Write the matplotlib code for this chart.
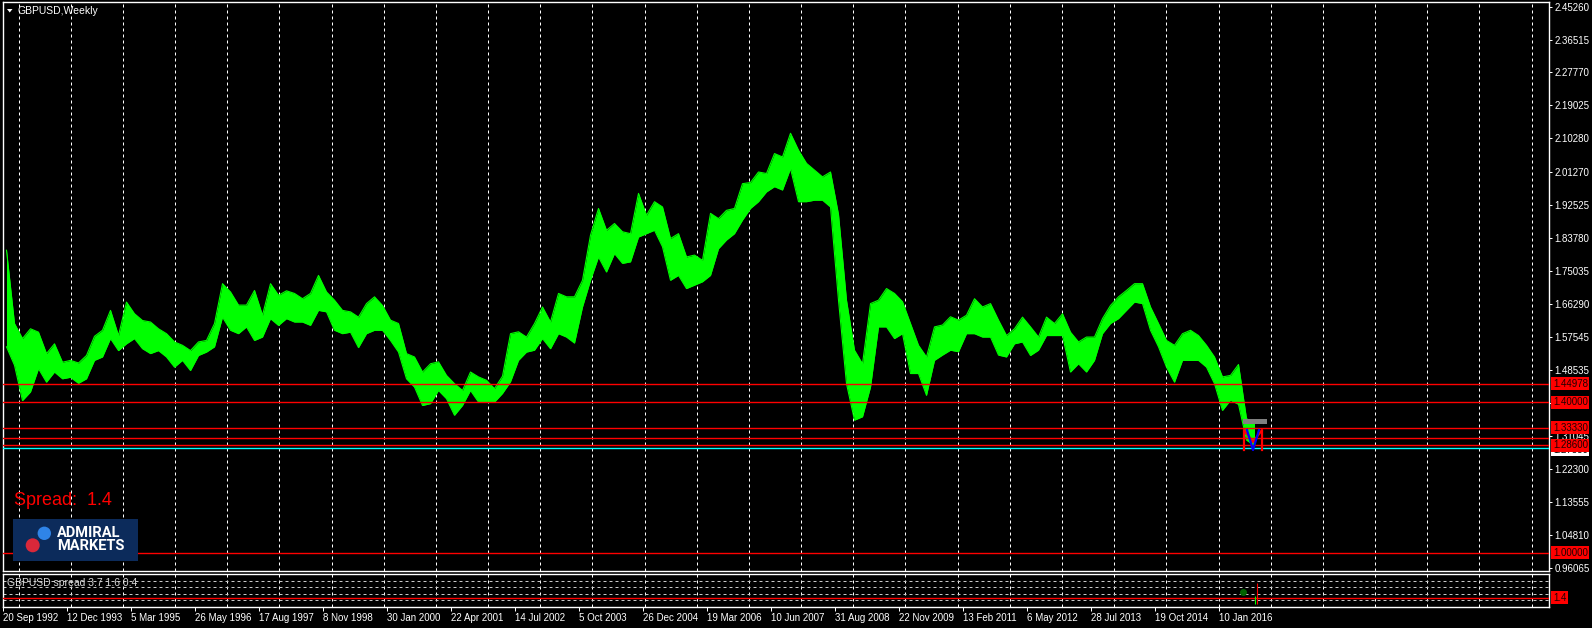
import matplotlib
matplotlib.use("Agg")
import matplotlib.pyplot as plt
import numpy as np
import pandas as pd
from matplotlib.patches import Rectangle, Ellipse, Polygon

# GBPUSD weekly, read off the chart as high / low per block of 8 weeks,
# first block starts on the week of 20 Sep 1992
block_high = [
    1.805, 1.610, 1.570, 1.596, 1.587, 1.530, 1.556, 1.507, 1.512, 1.505,
    1.525, 1.576, 1.592, 1.645, 1.578, 1.667, 1.636, 1.618, 1.614, 1.596,
    1.583, 1.561, 1.552, 1.538, 1.561, 1.565, 1.610, 1.716, 1.694, 1.659,
    1.659, 1.698, 1.632, 1.716, 1.685, 1.697, 1.690, 1.676, 1.690, 1.738,
    1.694, 1.672, 1.645, 1.641, 1.627, 1.663, 1.681, 1.658, 1.619, 1.610,
    1.530, 1.521, 1.481, 1.503, 1.508, 1.472, 1.450, 1.432, 1.481, 1.468,
    1.459, 1.437, 1.470, 1.583, 1.588, 1.574, 1.610, 1.654, 1.614, 1.690,
    1.681, 1.681, 1.725, 1.845, 1.916, 1.858, 1.876, 1.854, 1.849, 1.956,
    1.898, 1.934, 1.920, 1.836, 1.849, 1.787, 1.792, 1.778, 1.903, 1.889,
    1.911, 1.916, 1.982, 1.985, 2.013, 2.009, 2.062, 2.053, 2.116, 2.071,
    2.036, 2.018, 2.000, 2.013, 1.900, 1.672, 1.539, 1.503, 1.663, 1.672,
    1.703, 1.690, 1.668, 1.610, 1.552, 1.521, 1.601, 1.606, 1.628, 1.619,
    1.632, 1.676, 1.654, 1.663, 1.619, 1.578, 1.596, 1.627, 1.601, 1.574,
    1.627, 1.610, 1.636, 1.587, 1.561, 1.574, 1.574, 1.623, 1.658, 1.681,
    1.698, 1.716, 1.716, 1.654, 1.610, 1.565, 1.552, 1.583, 1.592, 1.578,
    1.552, 1.521, 1.468, 1.472, 1.501, 1.357, 1.345,
]
block_low = [
    1.548, 1.499, 1.405, 1.428, 1.490, 1.454, 1.481, 1.463, 1.467, 1.451,
    1.463, 1.512, 1.521, 1.570, 1.538, 1.556, 1.570, 1.543, 1.530, 1.538,
    1.521, 1.494, 1.512, 1.485, 1.525, 1.534, 1.548, 1.627, 1.592, 1.583,
    1.601, 1.565, 1.574, 1.623, 1.605, 1.623, 1.614, 1.614, 1.605, 1.645,
    1.641, 1.592, 1.583, 1.587, 1.546, 1.583, 1.592, 1.592, 1.565, 1.534,
    1.463, 1.441, 1.392, 1.397, 1.432, 1.410, 1.366, 1.392, 1.432, 1.401,
    1.401, 1.401, 1.424, 1.455, 1.512, 1.534, 1.539, 1.570, 1.543, 1.583,
    1.574, 1.558, 1.654, 1.725, 1.787, 1.747, 1.796, 1.770, 1.774, 1.840,
    1.849, 1.858, 1.814, 1.725, 1.738, 1.703, 1.712, 1.721, 1.738, 1.809,
    1.832, 1.849, 1.885, 1.916, 1.934, 1.960, 1.974, 1.965, 2.022, 1.934,
    1.934, 1.938, 1.938, 1.920, 1.672, 1.450, 1.353, 1.362, 1.441, 1.601,
    1.601, 1.570, 1.583, 1.477, 1.477, 1.419, 1.512, 1.526, 1.539, 1.535,
    1.583, 1.583, 1.574, 1.574, 1.526, 1.521, 1.556, 1.561, 1.525, 1.539,
    1.578, 1.578, 1.578, 1.481, 1.503, 1.481, 1.512, 1.583, 1.610, 1.623,
    1.645, 1.667, 1.663, 1.592, 1.548, 1.494, 1.454, 1.512, 1.512, 1.512,
    1.494, 1.450, 1.379, 1.406, 1.395, 1.300, 1.285,
]
weeks_per_block = 8

date_labels = [
    "20 Sep 1992", "12 Dec 1993", "5 Mar 1995", "26 May 1996", "17 Aug 1997",
    "8 Nov 1998", "30 Jan 2000", "22 Apr 2001", "14 Jul 2002", "5 Oct 2003",
    "26 Dec 2004", "19 Mar 2006", "10 Jun 2007", "31 Aug 2008", "22 Nov 2009",
    "13 Feb 2011", "6 May 2012", "28 Jul 2013", "19 Oct 2014", "10 Jan 2016",
]
price_ticks = [
    2.45260, 2.36515, 2.27770, 2.19025, 2.10280, 2.01270, 1.92525, 1.83780,
    1.75035, 1.66290, 1.57545, 1.48535, 1.39790, 1.31045, 1.22300, 1.13555,
    1.04810, 0.96065,
]
red_levels = [1.44978, 1.40000, 1.33330, 1.30594, 1.28600, 1.00000]
red_labels = [1.44978, 1.40000, 1.33330, 1.28600, 1.00000]
cyan_level = 1.27850

# drawn objects on the last weeks (week index, price)
box_weeks = [1240, 1264]
box_prices = [1.344, 1.355]
m_red_weeks = [1241, 1241, 1250, 1259, 1259]
m_red_prices = [1.2736, 1.3268, 1.2950, 1.3268, 1.2736]
m_blue_weeks = [1244, 1250, 1256]
m_blue_prices = [1.3268, 1.2736, 1.3268]

# spread sub window
spread_levels = [1, 2, 3, 4]
spread_now = 1.4
spread_max, spread_avg, spread_min = 3.7, 1.6, 0.4
spread_week = 1254
spread_dot = (1240, 2.3)

W, H = 1592, 628
LIME = "#00ff00"
WHITE = "#ffffff"


def fig_box(x0, y0, x1, y1):
    # pixel box (top-left origin) -> figure fraction rect
    return [x0 / W, 1 - y1 / H, (x1 - x0) / W, (y1 - y0) / H]


def style_axes(ax):
    ax.set_facecolor("black")
    for sp in ax.spines.values():
        sp.set_color(WHITE)
        sp.set_linewidth(1.0)
    ax.set_xlim(-0.3, 1545.5)
    # MT4 vertical grid
    for gx in np.arange(15.6, 1545, 52.17):
        ax.axvline(gx, color=WHITE, lw=0.72, ls=(0, (3, 3)), zorder=1)


def main():
    plt.rcParams["font.family"] = ["Liberation Sans", "DejaVu Sans"]

    fig = plt.figure(figsize=(W / 100, H / 100), dpi=100, facecolor="black")
    ax = fig.add_axes(fig_box(2.7, 1.7, 1548.5, 570.7))
    ax_sub = fig.add_axes(fig_box(2.7, 573.7, 1548.5, 606.9))
    style_axes(ax)
    style_axes(ax_sub)

    # ── price ────────────────────────────────────────────────
    high = np.array(block_high)
    low = np.array(block_low)
    xs = np.arange(len(high)) * weeks_per_block + weeks_per_block / 2 - 0.5
    ax.fill_between(xs, low, high, color=LIME, lw=0, zorder=3)
    ax.plot(xs, high, color=LIME, lw=0.8, zorder=3)
    ax.plot(xs, low, color=LIME, lw=0.8, zorder=3)

    for lv in red_levels:
        ax.axhline(lv, color="#ff0000", lw=1.0, zorder=4)
    ax.axhline(cyan_level, color="#00ffff", lw=1.0, zorder=4)

    ax.fill_between(box_weeks, box_prices[0], box_prices[1], color="#808080", lw=0, zorder=5)
    ax.plot(m_red_weeks, m_red_prices, color="#ff0000", lw=1.6, zorder=5)
    ax.plot(m_blue_weeks, m_blue_prices, color="#0000ff", lw=1.6, zorder=6)

    ax.set_ylim(0.9526, 2.4659)
    ax.yaxis.tick_right()
    ax.set_yticks(price_ticks, [f"{v:.5f}" for v in price_ticks])
    ax.tick_params(axis="y", colors=WHITE, labelsize=7, length=2.2, width=0.72, pad=2)
    ax.tick_params(axis="x", bottom=False, labelbottom=False)

    ytr = ax.get_yaxis_transform()
    ax.annotate(f"{cyan_level:.5f}", xy=(1, cyan_level - 0.004), xycoords=ytr,
                xytext=(3.2, 0), textcoords="offset points", ha="left", va="center",
                fontsize=7, color="black", annotation_clip=False, zorder=8,
                bbox=dict(boxstyle="square,pad=0.15", fc=WHITE, ec="none"))
    for lv in red_labels:
        ax.annotate(f"{lv:.5f}", xy=(1, lv), xycoords=ytr, xytext=(3.2, 0),
                    textcoords="offset points", ha="left", va="center",
                    fontsize=7, color="#200000", annotation_clip=False, zorder=9,
                    bbox=dict(boxstyle="square,pad=0.15", fc="#ff0000", ec="none"))

    # ── spread window ────────────────────────────────────────
    ax_sub.set_ylim(0, 5.1)
    for lv in spread_levels:
        ax_sub.axhline(lv, color="#c8c8c8", lw=0.72, ls=(0, (3, 3)), zorder=1)
    ax_sub.axhline(spread_now, color="#ff0000", lw=1.0, zorder=3)
    ax_sub.vlines(spread_week, spread_min, spread_max, color="#ff0000", lw=0.8, zorder=4)
    ax_sub.vlines(spread_week - 2, spread_min, spread_avg, color=LIME, lw=0.8, zorder=4)
    ax_sub.plot(*spread_dot, "o", color="#006400", ms=4, zorder=4)
    ax_sub.set_yticks([])
    ax_sub.text(0.003, 0.72, f"GBPUSD spread {spread_max} {spread_avg} {spread_min}",
                transform=ax_sub.transAxes, color="#d8d8d8", fontsize=7.5,
                ha="left", va="center", zorder=5)
    ax_sub.annotate(f"{spread_now}", xy=(1, spread_now), xycoords=ax_sub.get_yaxis_transform(),
                    xytext=(3.2, 0), textcoords="offset points", ha="left", va="center",
                    fontsize=7, color="#200000", annotation_clip=False,
                    bbox=dict(boxstyle="square,pad=0.15", fc="#ff0000", ec="none"))

    d = pd.to_datetime(date_labels, format="%d %b %Y")
    week_pos = ((d - d[0]).days / 7).to_numpy()
    ax_sub.set_xticks(week_pos, date_labels)
    ax_sub.tick_params(axis="x", colors=WHITE, labelsize=7, length=3, width=0.72, pad=1.5)
    for lbl in ax_sub.get_xticklabels():
        lbl.set_horizontalalignment("left")

    # ── overlays ─────────────────────────────────────────────
    fig.text(17.7 / W, 1 - 11 / H, "GBPUSD,Weekly", color=WHITE, fontsize=7.5,
             ha="left", va="center")
    fig.patches.append(Polygon([[7 / W, 1 - 9 / H], [12.5 / W, 1 - 9 / H], [9.75 / W, 1 - 12.5 / H]],
                               closed=True, transform=fig.transFigure, fc=WHITE, ec="none"))

    fig.text(14 / W, 1 - 500.5 / H, "Spread:  1.4", color="#ff0000", fontsize=13,
             ha="left", va="center")

    fig.patches.append(Rectangle((12.7 / W, 1 - 560.7 / H), 125 / W, 41.7 / H,
                                 transform=fig.transFigure, fc="#0c2b5b", ec="none"))
    fig.patches.append(Ellipse((44.3 / W, 1 - 533.3 / H), 13.4 / W, 13.4 / H,
                               transform=fig.transFigure, fc="#2f84e8", ec="none"))
    fig.patches.append(Ellipse((32.7 / W, 1 - 545.3 / H), 14 / W, 14 / H,
                               transform=fig.transFigure, fc="#d9283a", ec="none"))
    fig.text(56.7 / W, 1 - 533.3 / H, "ADMIRAL", color=WHITE, fontsize=10.5,
             fontweight="bold", family="Roboto", ha="left", va="center")
    fig.text(56.7 / W, 1 - 546 / H, "MARKETS", color=WHITE, fontsize=10.5,
             fontweight="bold", family="Roboto", ha="left", va="center")

    fig.savefig("out.png", dpi=100, facecolor="black")


if __name__ == "__main__":
    main()
